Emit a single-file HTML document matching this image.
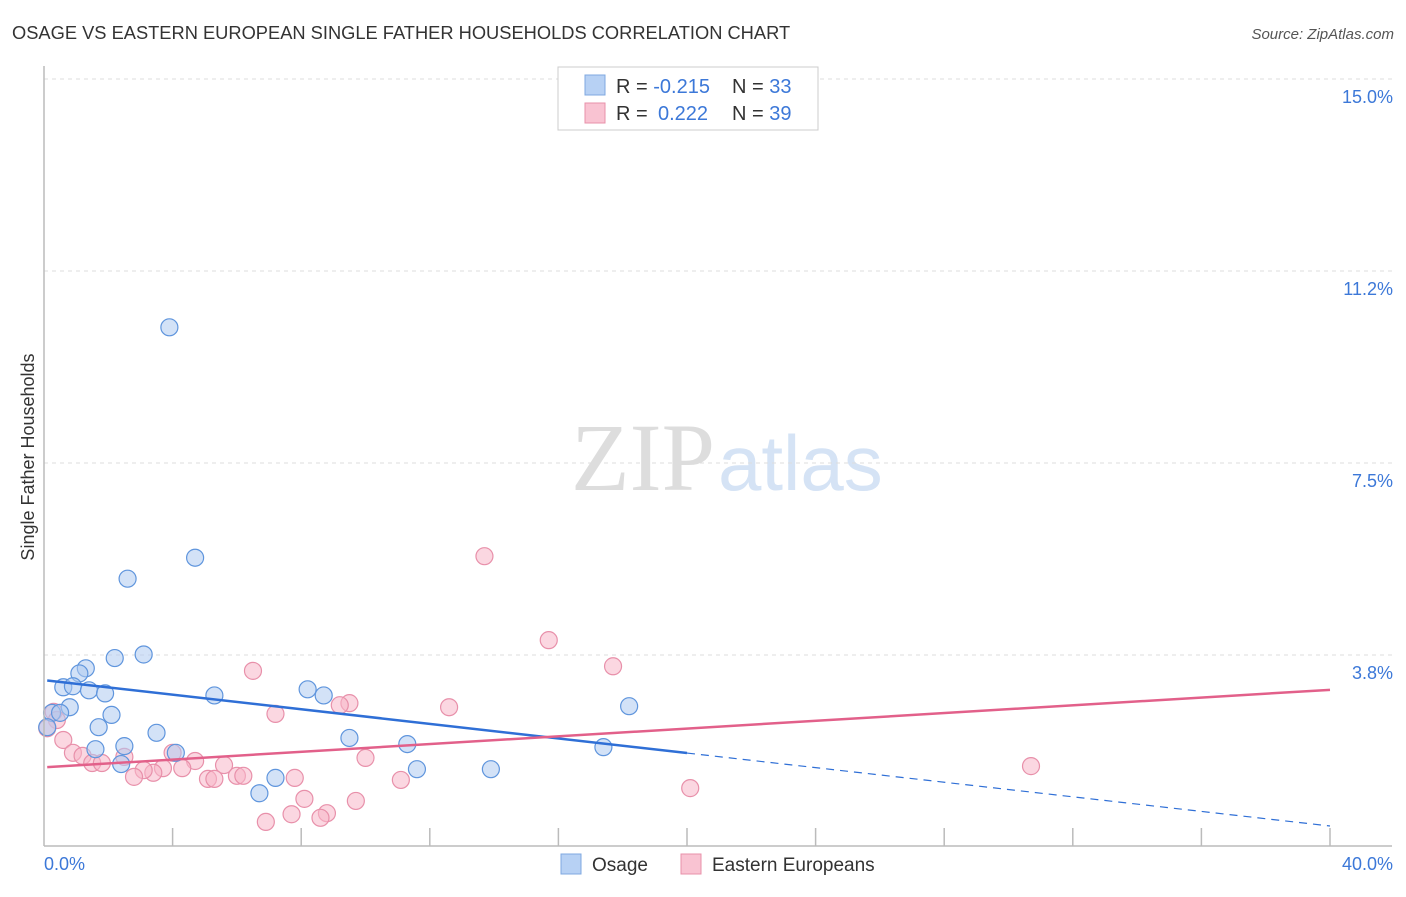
<!DOCTYPE html>
<html><head><meta charset="utf-8"><style>
body{margin:0;background:#fff;font-family:"Liberation Sans",sans-serif}
</style></head><body>
<svg id="c" width="1406" height="892" xmlns="http://www.w3.org/2000/svg">
<text x="12" y="39" font-size="18.3" fill="#333">OSAGE VS EASTERN EUROPEAN SINGLE FATHER HOUSEHOLDS CORRELATION CHART</text>
<text x="1394" y="39" font-size="15" fill="#555" text-anchor="end" font-style="italic">Source: ZipAtlas.com</text>
<text x="715" y="490" font-size="96" fill="#ddd" text-anchor="end" font-family="Liberation Serif,serif">ZIP</text>
<text x="718" y="490" font-size="78" fill="#d5e3f5">atlas</text>
<text x="34" y="457" font-size="18" fill="#333" text-anchor="middle" transform="rotate(-90 34 457)">Single Father Households</text>
<g id="grid"></g><g id="pts"></g><g id="trend"></g>
<line x1="44" y1="66" x2="44" y2="846" stroke="#bbb" stroke-width="1.5"/>
<line x1="44" y1="846" x2="1392" y2="846" stroke="#bbb" stroke-width="1.5"/>
<text x="44" y="870" font-size="18" fill="#3c78d8">0.0%</text>
<text x="1393" y="870" font-size="18" fill="#3c78d8" text-anchor="end">40.0%</text>
<g>
<rect x="558" y="67" width="260" height="63" fill="#fff" stroke="#ccc"/>
<rect x="585" y="75" width="20" height="20" fill="#b7d1f4" stroke="#7fa8e0"/>
<rect x="585" y="103" width="20" height="20" fill="#f9c3d2" stroke="#e890aa"/>
<text x="616" y="93" font-size="20" fill="#333">R = <tspan fill="#3c78d8">-0.215</tspan><tspan x="732">N = </tspan><tspan fill="#3c78d8">33</tspan></text>
<text x="616" y="120" font-size="20" fill="#333">R = <tspan fill="#3c78d8" x="658">0.222</tspan><tspan x="732">N = </tspan><tspan fill="#3c78d8">39</tspan></text>
</g>
<g><rect x="561" y="854" width="20" height="20" fill="#b7d1f4" stroke="#7fa8e0"/><text x="592" y="871" font-size="19" fill="#333">Osage</text></g>
<g><rect x="681" y="854" width="20" height="20" fill="#f9c3d2" stroke="#e890aa"/><text x="712" y="871" font-size="19" fill="#333">Eastern Europeans</text></g>
</svg>
<script>
const yTicks=[3.8,7.5,11.2,15.0];
const yTickPos=[3.75,7.5,11.25,15.0];
const blueX=[3.9,4.7,2.6,3.1,2.2,1.3,1.1,0.6,0.9,1.4,1.9,5.3,8.2,8.7,18.2,0.8,0.25,0.5,2.1,1.7,0.1,3.5,9.5,2.5,11.3,1.6,17.4,4.1,2.4,11.6,13.9,7.2,6.7];
const blueY=[10.15,5.65,5.24,3.76,3.69,3.49,3.39,3.12,3.14,3.06,3.0,2.96,3.08,2.96,2.75,2.73,2.62,2.62,2.58,2.34,2.34,2.23,2.13,1.97,2.01,1.91,1.95,1.84,1.62,1.52,1.52,1.35,1.05];
const pinkX=[13.7,15.7,17.7,6.5,9.5,9.2,12.6,7.2,0.3,0.4,0.1,0.6,0.9,1.2,2.5,1.5,1.8,4.0,4.7,5.6,10.0,30.7,3.7,4.3,3.4,3.1,2.8,5.1,5.3,6.0,6.2,7.8,11.1,20.1,8.1,9.7,7.7,8.8,8.6,6.9];
const pinkY=[5.68,4.04,3.53,3.44,2.81,2.77,2.73,2.6,2.64,2.48,2.32,2.09,1.84,1.78,1.76,1.64,1.64,1.84,1.68,1.6,1.74,1.58,1.54,1.54,1.45,1.5,1.37,1.33,1.33,1.39,1.39,1.35,1.31,1.15,0.94,0.9,0.64,0.66,0.57,0.49];
const blueTrend=[3.26,0.41];const pinkTrend=[1.56,3.07];
const X=v=>44+v*32.15, Y=v=>847-v*51.2;
const NS="http://www.w3.org/2000/svg";
const g=document.getElementById('grid'),p=document.getElementById('pts'),t=document.getElementById('trend');
yTicks.forEach((lab,i)=>{const yy=Y(yTickPos[i]);
 const l=document.createElementNS(NS,'line');l.setAttribute('x1',44);l.setAttribute('x2',1392);l.setAttribute('y1',yy);l.setAttribute('y2',yy);l.setAttribute('stroke','#ddd');l.setAttribute('stroke-dasharray','4,4');
 
 g.appendChild(l);
 const tx=document.createElementNS(NS,'text');tx.setAttribute('x',1393);tx.setAttribute('y',yy+24);tx.setAttribute('text-anchor','end');tx.setAttribute('font-size','18');tx.setAttribute('fill','#3c78d8');tx.textContent=lab.toFixed(1)+'%';
 
 g.appendChild(tx);});
for(let i=1;i<=10;i++){const l=document.createElementNS(NS,'line');const xx=X(i*4);l.setAttribute('x1',xx);l.setAttribute('x2',xx);l.setAttribute('y1',828);l.setAttribute('y2',846);l.setAttribute('stroke','#bbb');l.setAttribute('stroke-width','1.5');
 
 g.appendChild(l);}
function dots(xs,ys,f,s,n){xs.forEach((v,i)=>{const c=document.createElementNS(NS,'circle');c.setAttribute('cx',X(v));c.setAttribute('cy',Y(ys[i]));c.setAttribute('r',8.5);c.setAttribute('fill',f);c.setAttribute('fill-opacity','0.55');c.setAttribute('stroke',s);c.setAttribute('stroke-width','1.2');
 
 p.appendChild(c);});}
dots(pinkX,pinkY,'#f7b6c8','#e890aa','eastern-european-point');
dots(blueX,blueY,'#aecbf0','#5f95dd','osage-point');
function line(x1,y1,x2,y2,col,dash,n){const l=document.createElementNS(NS,'line');l.setAttribute('x1',X(x1));l.setAttribute('y1',Y(y1));l.setAttribute('x2',X(x2));l.setAttribute('y2',Y(y2));l.setAttribute('stroke',col);l.setAttribute('stroke-width',dash?1.2:2.5);if(dash)l.setAttribute('stroke-dasharray','8,6');
 
 t.appendChild(l);}
const bAt=x=>blueTrend[0]+(blueTrend[1]-blueTrend[0])*x/40;
line(0.1,bAt(0.1),20,bAt(20),'#2f6fd6',false,'osage-trend-line');
line(20,bAt(20),40,bAt(40),'#2f6fd6',true,'osage-trend-extension');
line(0.1,pinkTrend[0],40,pinkTrend[1],'#e2608a',false,'eastern-european-trend-line');
</script>
</body></html>
